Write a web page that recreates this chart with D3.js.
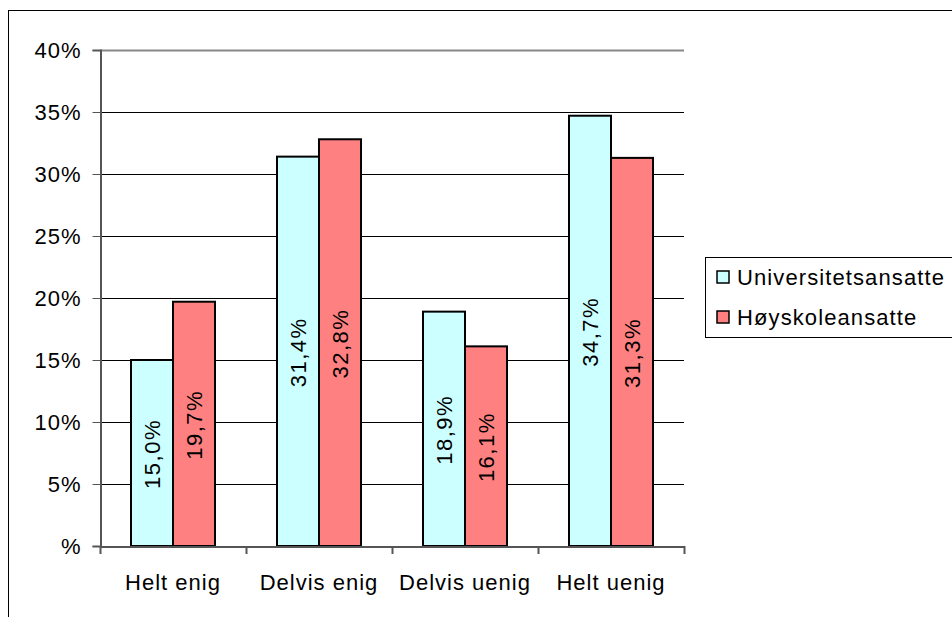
<!DOCTYPE html>
<html><head><meta charset="utf-8">
<script src="https://cdn.jsdelivr.net/npm/d3@7"></script>
<style>body{margin:0;background:#fff;overflow:hidden}svg{display:block}text{font-family:"Liberation Sans",Arial,sans-serif;fill:#000}</style>
</head><body>
<script>
const categories = ["Helt enig", "Delvis enig", "Delvis uenig", "Helt uenig"];
const seriesNames = ["Universitetsansatte", "Høyskoleansatte"];
const universitet = [15.0, 31.4, 18.9, 34.7];
const hoyskole = [19.7, 32.8, 16.1, 31.3];
const yTicks = [0, 5, 10, 15, 20, 25, 30, 35, 40];
const colors = ["#ccffff", "#ff8080"];

const W = 952, H = 617;
const svg = d3.select("body").append("svg").attr("width", W).attr("height", H);

// outer frame
svg.append("rect").attr("x", 8.5).attr("y", 10.5).attr("width", 960).attr("height", 640)
  .attr("fill", "none").attr("stroke", "#000").attr("stroke-width", 1);

const pLeft = 100, pRight = 684, pTop = 50, pBottom = 546;
const x = d3.scaleBand().domain(categories).range([pLeft, pRight]).paddingInner(0).paddingOuter(0);
const y = d3.scaleLinear().domain([0, 40]).range([pBottom, pTop]);
const xs = d3.scaleBand().domain([0, 1]).range([31, x.bandwidth() - 31]);

// gridlines
svg.append("g").selectAll("line").data(yTicks.filter(d => d > 0)).join("line")
  .attr("x1", pLeft).attr("x2", pRight)
  .attr("y1", d => Math.round(y(d)) + 0.5).attr("y2", d => Math.round(y(d)) + 0.5)
  .attr("stroke", d => d === 40 ? "#888" : "#000").attr("stroke-width", d => d === 40 ? 2 : 1);

// y axis
const yAxis = d3.axisLeft(y).tickValues(yTicks).tickSize(8).tickPadding(11)
  .tickFormat(d => d === 0 ? "%" : d + "%");
const gy = svg.append("g").attr("transform", `translate(${pLeft + 0.5},0)`).call(yAxis);
gy.select(".domain").attr("stroke", "#555").attr("stroke-width", 2);
gy.selectAll(".tick line").attr("stroke", "#555");
gy.selectAll(".tick text").style("font-size", "22px").style("letter-spacing", "1px").attr("fill", "#000");

// bars
const data = categories.map((c, i) => ({c, vals: [universitet[i], hoyskole[i]]}));
const groups = svg.append("g").selectAll("g").data(data).join("g")
  .attr("transform", d => `translate(${x(d.c)},0)`);
groups.selectAll("rect").data(d => d.vals.map((v, k) => ({v, k}))).join("rect")
  .attr("x", d => xs(d.k)).attr("width", xs.bandwidth())
  .attr("y", d => y(d.v)).attr("height", d => y(0) - y(d.v))
  .attr("fill", d => colors[d.k]).attr("stroke", "#000").attr("stroke-width", 2);
groups.selectAll("text").data(d => d.vals.map((v, k) => ({v, k}))).join("text")
  .attr("transform", d => `translate(${xs(d.k) + xs.bandwidth() / 2},${(y(d.v) + y(0)) / 2 + 1}) rotate(-90)`)
  .attr("text-anchor", "middle").attr("dy", "0.35em").style("font-size", "22px").style("letter-spacing", "1.5px")
  .text(d => d.v.toFixed(1).replace(".", ",") + "%");

// x axis
const xAxis = d3.axisBottom(x).tickSize(0).tickPadding(28);
const gx = svg.append("g").attr("transform", `translate(0,${pBottom + 0.5})`).call(xAxis);
gx.select(".domain").attr("stroke", "#555").attr("stroke-width", 2);
gx.selectAll(".tick text").style("font-size", "22px").style("letter-spacing", "1px").attr("fill", "#000");
svg.append("g").selectAll("line").data(d3.range(categories.length + 1)).join("line")
  .attr("x1", i => pLeft + i * x.bandwidth() + 0.5).attr("x2", i => pLeft + i * x.bandwidth() + 0.5)
  .attr("y1", pBottom).attr("y2", pBottom + 8).attr("stroke", "#555").attr("stroke-width", 2);

// legend
const lg = svg.append("g");
lg.append("rect").attr("x", 705.5).attr("y", 257.5).attr("width", 260).attr("height", 80)
  .attr("fill", "#fff").attr("stroke", "#000");
seriesNames.forEach((n, i) => {
  const cy = 277 + i * 40;
  lg.append("rect").attr("x", 717).attr("y", cy - 6).attr("width", 12).attr("height", 12)
    .attr("fill", colors[i]).attr("stroke", "#000").attr("stroke-width", 1.5);
  lg.append("text").attr("x", 737).attr("y", cy).attr("dy", "0.35em").style("font-size", "22px")
    .style("letter-spacing", "1.1px").text(n);
});
</script>
</body></html>
